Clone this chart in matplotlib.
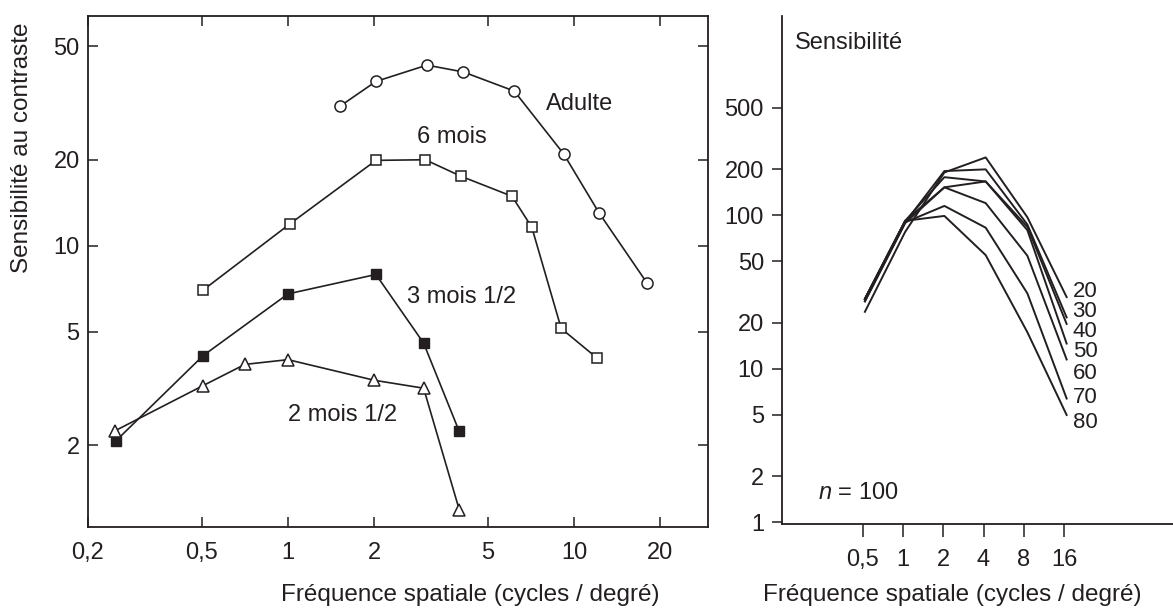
import numpy as np
import matplotlib
matplotlib.use("Agg")
import matplotlib.pyplot as plt
from matplotlib.ticker import FixedLocator, FixedFormatter, NullLocator

plt.rcParams['font.family'] = ['Liberation Sans', 'DejaVu Sans']
plt.rcParams['mathtext.fontset'] = 'custom'
plt.rcParams['mathtext.it'] = 'Liberation Sans:italic'
plt.rcParams['mathtext.rm'] = 'Liberation Sans'

INK = '#231f20'

# --- left panel : sensibilite au contraste selon l'age (bebes / adulte)
adult_f = [1.52, 2.03, 3.06, 4.1, 6.18, 9.19, 12.25, 18.0]
adult_s = [30.8, 37.6, 42.9, 40.6, 34.8, 21.0, 13.0, 7.4]
m6_f = [0.503, 1.02, 2.03, 3.02, 4.03, 6.07, 7.12, 9.02, 12.08]
m6_s = [6.97, 11.96, 19.9, 20.0, 17.5, 14.9, 11.6, 5.13, 4.03]
m35_f = [0.25, 0.505, 1.0, 2.03, 2.98, 3.96]
m35_s = [2.07, 4.12, 6.78, 7.93, 4.56, 2.25]
m25_f = [0.249, 0.503, 0.707, 1.0, 2.0, 2.98, 3.97]
m25_s = [2.25, 3.23, 3.84, 3.99, 3.38, 3.17, 1.19]

left_xticks = [0.2, 0.5, 1, 2, 5, 10, 20]
left_xlabels = ['0,2', '0,5', '1', '2', '5', '10', '20']
left_yticks = [2, 5, 10, 20, 50]
left_ylabels = ['2', '5', '10', '20', '50']

# --- right panel : sensibilite selon l'age adulte (n = 100)
freq_r = [0.52, 1.04, 2.04, 4.15, 8.5, 16.7]
sens_20 = [23.5, 78, 190, 238, 97, 29.3]
sens_30 = [28.5, 90, 194, 199, 87, 21.6]
sens_40 = [28.5, 92, 177, 166, 84, 19.6]
sens_50 = [27.5, 89, 152, 166, 80, 14.6]
sens_60 = [28.5, 92, 152, 120, 54.5, 11.5]
sens_70 = [27.5, 90, 115, 83, 31, 6.4]
sens_80 = [28.5, 92, 99, 55, 17.3, 5.0]
age_names = ['20', '30', '40', '50', '60', '70', '80']
age_curves = [sens_20, sens_30, sens_40, sens_50, sens_60, sens_70, sens_80]
age_label_y = [31.8, 23.6, 17.6, 13.0, 9.27, 6.46, 4.48]

right_xticks = [0.5, 1, 2, 4, 8, 16]
right_xlabels = ['0,5', '1', '2', '4', '8', '16']
right_yticks = [1, 2, 5, 10, 20, 50, 100, 200, 500]
right_ylabels = ['1', '2', '5', '10', '20', '50', '100', '200', '500']

fig = plt.figure(figsize=(11.73, 6.1), dpi=100)

# left
ax1 = fig.add_axes([88 / 1173, 1 - 527 / 610, (708 - 88) / 1173, (527 - 15.5) / 610])
ax1.set_xscale('log')
ax1.set_yscale('log')

ax1.plot(adult_f, adult_s, '-o', color=INK, lw=1.2, ms=8, mfc='white', mec=INK, mew=1.1)
ax1.plot(m6_f, m6_s, '-s', color=INK, lw=1.2, ms=7.5, mfc='white', mec=INK, mew=1.1)
ax1.plot(m35_f, m35_s, '-s', color=INK, lw=1.2, ms=7, mfc=INK, mec=INK, mew=1.0)
ax1.plot(m25_f, m25_s, '-^', color=INK, lw=1.2, ms=8.5, mfc='white', mec=INK, mew=1.1)

ax1.text(7.95, 31.3, 'Adulte', fontsize=17, color=INK, ha='left', va='center')
ax1.text(2.82, 24.0, '6 mois', fontsize=17, color=INK, ha='left', va='center')
ax1.text(2.6, 6.59, '3 mois 1/2', fontsize=17, color=INK, ha='left', va='center')
ax1.text(1.0, 2.55, '2 mois 1/2', fontsize=17, color=INK, ha='left', va='center')

ax1.set_xlim(0.2, 29.4)
ax1.set_ylim(1.035, 64)
ax1.xaxis.set_major_locator(FixedLocator(left_xticks))
ax1.xaxis.set_major_formatter(FixedFormatter(left_xlabels))
ax1.xaxis.set_minor_locator(NullLocator())
ax1.yaxis.set_major_locator(FixedLocator(left_yticks))
ax1.yaxis.set_major_formatter(FixedFormatter(left_ylabels))
ax1.yaxis.set_minor_locator(NullLocator())
ax1.tick_params(which='major', direction='in', length=7, width=1.1, color=INK,
                top=True, right=True, labelsize=17, labelcolor=INK)
ax1.tick_params(axis='x', pad=11)
ax1.tick_params(axis='y', pad=6)
for s in ax1.spines.values():
    s.set_linewidth(1.3)
    s.set_color(INK)

# right
ax2 = fig.add_axes([782 / 1173, 1 - 524 / 610, (1173 - 782) / 1173, (524 - 15.5) / 610])
ax2.set_xscale('log', base=2)
ax2.set_yscale('log')
for name, curve, ly in zip(age_names, age_curves, age_label_y):
    ax2.plot(freq_r, curve, '-', color=INK, lw=1.4)
    ax2.text(18.5, ly, name, fontsize=16, color=INK, ha='left', va='center')

ax2.set_xlim(0.125, 104)
ax2.set_ylim(0.975, 2000)
ax2.xaxis.set_major_locator(FixedLocator(right_xticks))
ax2.xaxis.set_major_formatter(FixedFormatter(right_xlabels))
ax2.xaxis.set_minor_locator(NullLocator())
ax2.yaxis.set_major_locator(FixedLocator(right_yticks))
ax2.yaxis.set_major_formatter(FixedFormatter(right_ylabels))
ax2.yaxis.set_minor_locator(NullLocator())
ax2.tick_params(which='major', direction='out', width=1.1, color=INK,
                labelsize=17, labelcolor=INK)
ax2.tick_params(axis='x', length=9, pad=9)
ax2.tick_params(axis='y', length=7, pad=6)
ax2.spines['top'].set_visible(False)
ax2.spines['right'].set_visible(False)
for side in ['left', 'bottom']:
    ax2.spines[side].set_linewidth(1.3)
    ax2.spines[side].set_color(INK)

ax2.text(0.033, 0.946, 'Sensibilité', transform=ax2.transAxes, fontsize=17,
         color=INK, ha='left', va='center')
ax2.text(0.092, 0.061, '$n$ = 100', transform=ax2.transAxes, fontsize=17,
         color=INK, ha='left', va='center')

fig.text(22 / 1173, 1 - 148 / 610, 'Sensibilité au contraste', rotation=90,
         fontsize=17.5, color=INK, ha='center', va='center')
fig.text(470 / 1173, 1 - 595 / 610, 'Fréquence spatiale (cycles / degré)',
         fontsize=17.5, color=INK, ha='center', va='center')
fig.text(952.5 / 1173, 1 - 595 / 610, 'Fréquence spatiale (cycles / degré)',
         fontsize=17.5, color=INK, ha='center', va='center')

fig.savefig('out.png', dpi=100, facecolor='white')
